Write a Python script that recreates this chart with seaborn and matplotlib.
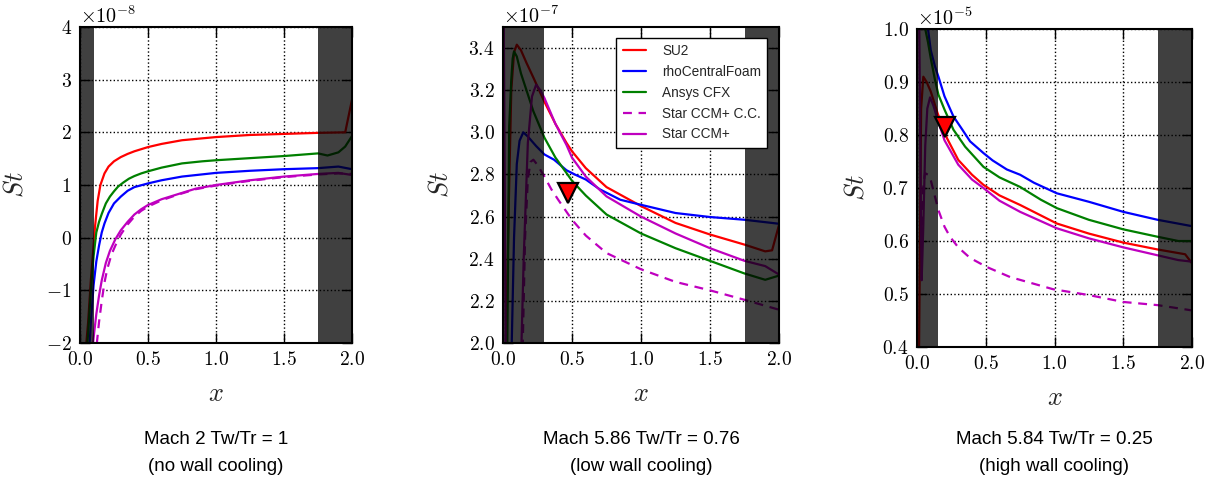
import numpy as np
import matplotlib
matplotlib.use("Agg")
import matplotlib.pyplot as plt
import seaborn as sns
from matplotlib.ticker import MultipleLocator

# ---------------- data (St values in units of the panel's scale) ----------------
solvers = ["SU2", "rhoCentralFoam", "Ansys CFX", "Star CCM+ C.C.", "Star CCM+"]
titles = [("Mach 2 Tw/Tr = 1", "(no wall cooling)"),
          ("Mach 5.86 Tw/Tr = 0.76", "(low wall cooling)"),
          ("Mach 5.84 Tw/Tr = 0.25", "(high wall cooling)")]
scales = [1e-8, 1e-7, 1e-5]
exponents = [-8, -7, -5]

# Panel 1 : Mach 2
p1_su2_x = [0.03, 0.06, 0.08, 0.10, 0.11, 0.13, 0.15, 0.18, 0.21, 0.25, 0.3, 0.35, 0.4, 0.45, 0.5, 0.6, 0.75, 1.0, 1.25, 1.5, 1.75, 1.95, 2.0]
p1_su2_y = [-2.5, -1.6, -0.8, -0.15, 0.2, 0.7, 1.0, 1.22, 1.35, 1.45, 1.53, 1.59, 1.64, 1.68, 1.72, 1.78, 1.85, 1.91, 1.95, 1.97, 1.99, 2.0, 2.62]
p1_rho_x = [0.06, 0.08, 0.1, 0.12, 0.14, 0.16, 0.18, 0.21, 0.25, 0.3, 0.35, 0.4, 0.5, 0.6, 0.75, 1.0, 1.25, 1.5, 1.75, 1.9, 2.0]
p1_rho_y = [-2.5, -1.6, -0.9, -0.45, -0.15, 0.1, 0.27, 0.47, 0.65, 0.78, 0.89, 0.96, 1.03, 1.09, 1.16, 1.23, 1.27, 1.3, 1.32, 1.35, 1.3]
p1_cfx_x = [0.04, 0.06, 0.08, 0.1, 0.12, 0.14, 0.16, 0.19, 0.22, 0.25, 0.28, 0.32, 0.36, 0.4, 0.45, 0.5, 0.6, 0.75, 0.9, 1.0, 1.25, 1.5, 1.75, 1.82, 1.9, 1.95, 2.0]
p1_cfx_y = [-2.5, -1.8, -1.0, -0.35, 0.1, 0.3, 0.45, 0.65, 0.78, 0.88, 0.97, 1.05, 1.12, 1.17, 1.22, 1.26, 1.33, 1.41, 1.45, 1.47, 1.51, 1.55, 1.6, 1.56, 1.62, 1.73, 1.93]
p1_cc_x = [0.1, 0.12, 0.14, 0.16, 0.18, 0.2, 0.23, 0.26, 0.3, 0.35, 0.4, 0.45, 0.5, 0.6, 0.7, 0.85, 1.0, 1.25, 1.5, 1.75, 1.9, 2.0]
p1_cc_y = [-2.6, -2.1, -1.6, -1.2, -0.85, -0.6, -0.33, -0.15, 0.06, 0.25, 0.4, 0.51, 0.59, 0.71, 0.8, 0.92, 0.99, 1.08, 1.15, 1.2, 1.22, 1.21]
p1_star_x = [0.08, 0.1, 0.12, 0.14, 0.16, 0.19, 0.22, 0.26, 0.3, 0.35, 0.4, 0.45, 0.5, 0.6, 0.7, 0.85, 1.0, 1.25, 1.5, 1.75, 1.9, 2.0]
p1_star_y = [-2.5, -1.9, -1.45, -1.1, -0.81, -0.48, -0.25, -0.03, 0.14, 0.3, 0.44, 0.54, 0.62, 0.73, 0.81, 0.93, 1.0, 1.09, 1.16, 1.21, 1.23, 1.19]

# Panel 2 : Mach 5.86, Tw/Tr = 0.76
p2_su2_x = [0.02, 0.04, 0.06, 0.08, 0.1, 0.13, 0.17, 0.22, 0.3, 0.38, 0.46, 0.5, 0.6, 0.75, 1.0, 1.25, 1.5, 1.75, 1.9, 1.95, 2.0]
p2_su2_y = [1.9, 2.6, 3.2, 3.38, 3.416, 3.39, 3.33, 3.26, 3.145, 3.04, 2.95, 2.91, 2.83, 2.74, 2.65, 2.57, 2.515, 2.467, 2.435, 2.44, 2.56]
p2_rho_x = [0.06, 0.08, 0.1, 0.12, 0.147, 0.18, 0.24, 0.3, 0.37, 0.46, 0.52, 0.6, 0.7, 0.85, 1.0, 1.25, 1.5, 1.75, 2.0]
p2_rho_y = [1.9, 2.5, 2.85, 2.96, 3.0, 2.98, 2.935, 2.895, 2.87, 2.82, 2.80, 2.776, 2.73, 2.68, 2.656, 2.617, 2.598, 2.585, 2.566]
p2_cfx_x = [0.03, 0.045, 0.06, 0.07, 0.08, 0.1, 0.13, 0.17, 0.22, 0.3, 0.38, 0.46, 0.5, 0.6, 0.75, 1.0, 1.25, 1.5, 1.75, 1.9, 2.0]
p2_cfx_y = [1.9, 3.03, 3.25, 3.35, 3.384, 3.36, 3.28, 3.2, 3.1, 2.975, 2.88, 2.807, 2.77, 2.70, 2.61, 2.52, 2.45, 2.39, 2.33, 2.30, 2.32]
p2_cc_x = [0.14, 0.16, 0.18, 0.2, 0.22, 0.25, 0.3, 0.35, 0.4, 0.5, 0.6, 0.75, 1.0, 1.25, 1.5, 1.75, 2.0]
p2_cc_y = [1.9, 2.5, 2.78, 2.86, 2.87, 2.845, 2.79, 2.73, 2.68, 2.585, 2.51, 2.427, 2.35, 2.29, 2.25, 2.205, 2.158]
p2_star_x = [0.005, 0.02, 0.13, 0.15, 0.18, 0.21, 0.24, 0.27, 0.3, 0.38, 0.46, 0.5, 0.6, 0.75, 1.0, 1.25, 1.5, 1.75, 1.9, 2.0]
p2_star_y = [3.6, 1.9, 1.9, 2.4, 2.95, 3.17, 3.226, 3.2, 3.163, 3.04, 2.94, 2.88, 2.79, 2.696, 2.6, 2.52, 2.45, 2.39, 2.365, 2.325]

# Panel 3 : Mach 5.84, Tw/Tr = 0.25
p3_su2_x = [0.015, 0.03, 0.046, 0.07, 0.1, 0.15, 0.218, 0.3, 0.4, 0.483, 0.6, 0.75, 1.017, 1.25, 1.5, 1.75, 1.95, 2.0]
p3_su2_y = [0.4, 0.85, 0.91, 0.9, 0.882, 0.841, 0.794, 0.753, 0.725, 0.706, 0.686, 0.668, 0.633, 0.614, 0.597, 0.584, 0.575, 0.558]
p3_rho_x = [0.05, 0.08, 0.1, 0.13, 0.156, 0.2, 0.265, 0.33, 0.386, 0.43, 0.483, 0.55, 0.653, 0.75, 0.85, 1.017, 1.25, 1.5, 1.75, 2.0]
p3_rho_y = [1.05, 1.0, 0.96, 0.93, 0.91, 0.873, 0.835, 0.81, 0.788, 0.778, 0.766, 0.752, 0.735, 0.725, 0.71, 0.69, 0.674, 0.655, 0.64, 0.628]
p3_cfx_x = [0.04, 0.06, 0.08, 0.1, 0.13, 0.156, 0.2, 0.265, 0.35, 0.483, 0.6, 0.75, 0.9, 1.017, 1.25, 1.5, 1.75, 1.9, 2.0]
p3_cfx_y = [1.05, 1.0, 0.975, 0.945, 0.905, 0.876, 0.848, 0.81, 0.778, 0.74, 0.72, 0.702, 0.678, 0.662, 0.64, 0.622, 0.608, 0.60, 0.60]
p3_cc_x = [0.03, 0.045, 0.058, 0.08, 0.1, 0.156, 0.2, 0.24, 0.3, 0.386, 0.507, 0.677, 0.99, 1.25, 1.5, 1.75, 2.0]
p3_cc_y = [0.6, 0.7, 0.728, 0.725, 0.715, 0.658, 0.627, 0.608, 0.588, 0.568, 0.551, 0.532, 0.509, 0.498, 0.485, 0.479, 0.469]
p3_star_x = [0.015, 0.03, 0.034, 0.045, 0.06, 0.075, 0.095, 0.12, 0.15, 0.2, 0.3, 0.4, 0.483, 0.6, 0.75, 1.017, 1.25, 1.5, 1.75, 1.9, 2.0]
p3_star_y = [1.05, 0.6, 0.526, 0.62, 0.78, 0.85, 0.871, 0.855, 0.829, 0.79, 0.744, 0.716, 0.7, 0.676, 0.655, 0.624, 0.605, 0.588, 0.573, 0.564, 0.561]

# triangle markers (x, St) for panels 2 and 3
p2_marker_x, p2_marker_y = [0.47], [2.71]
p3_marker_x, p3_marker_y = [0.204], [0.816]

# shaded (excluded) regions in x
p1_shade = [(0.0, 0.1), (1.75, 2.0)]
p2_shade = [(0.0, 0.3), (1.75, 2.0)]
p3_shade = [(0.0, 0.15), (1.75, 2.0)]

ylims = [(-2, 4), (2.0, 3.5), (0.4, 1.0)]
ysteps = [1.0, 0.2, 0.1]

# ---------------- styling ----------------
sns.set_theme(style="white")
plt.rcParams.update({
    "font.family": ["cmr10"],
    "mathtext.fontset": "cm",
    "axes.formatter.use_mathtext": True,
    "axes.unicode_minus": True,
})
colors = ["#ff0000", "#0000ff", "#008000", "#bf00bf", "#bf00bf"]
styles = ["-", "-", "-", (0, (4, 3)), "-"]
SANS = ["Liberation Sans", "DejaVu Sans"]

W, H = 1215, 482
fig = plt.figure(figsize=(W / 100, H / 100), dpi=100)
boxes = [(80, 27, 352, 343), (503, 27, 779, 343), (917, 29, 1192, 347)]
label_x = [28, 453, 868]
centers = [216, 641, 1054]

panels = [
    [(p1_su2_x, p1_su2_y), (p1_rho_x, p1_rho_y), (p1_cfx_x, p1_cfx_y), (p1_cc_x, p1_cc_y), (p1_star_x, p1_star_y)],
    [(p2_su2_x, p2_su2_y), (p2_rho_x, p2_rho_y), (p2_cfx_x, p2_cfx_y), (p2_cc_x, p2_cc_y), (p2_star_x, p2_star_y)],
    [(p3_su2_x, p3_su2_y), (p3_rho_x, p3_rho_y), (p3_cfx_x, p3_cfx_y), (p3_cc_x, p3_cc_y), (p3_star_x, p3_star_y)],
]
shades = [p1_shade, p2_shade, p3_shade]
markers = [None, (p2_marker_x, p2_marker_y), (p3_marker_x, p3_marker_y)]

for i in range(3):
    l, t, r, b = boxes[i]
    ax = fig.add_axes([l / W, 1 - b / H, (r - l) / W, (b - t) / H])
    sc = scales[i]
    for j, (xs, ys) in enumerate(panels[i]):
        sns.lineplot(x=xs, y=np.array(ys) * sc, ax=ax, color=colors[j],
                     linestyle=styles[j], linewidth=1.6, sort=False, estimator=None,
                     label=solvers[j], zorder=2)
    for a, bb in shades[i]:
        ax.axvspan(a, bb, color="black", alpha=0.75, lw=0, zorder=3)
    if markers[i] is not None:
        mx, my = markers[i]
        ax.plot(mx, np.array(my) * sc, marker="v", ms=15, mfc="#ff0000", mec="black",
                mew=1.6, ls="none", zorder=4)
    ax.set_xlim(0, 2)
    ax.set_ylim(ylims[i][0] * sc, ylims[i][1] * sc)
    ax.xaxis.set_major_locator(MultipleLocator(0.5))
    ax.yaxis.set_major_locator(MultipleLocator(ysteps[i] * sc))
    ax.ticklabel_format(axis="y", style="sci", scilimits=(exponents[i], exponents[i]), useMathText=True)
    ax.yaxis.get_offset_text().set_fontsize(14.5)
    ax.grid(True, color="black", linestyle=":", linewidth=1.0)
    ax.tick_params(direction="in", length=7, width=1, top=True, right=True,
                   bottom=True, left=True, labelsize=14, pad=6, colors="black")
    for s in ax.spines.values():
        s.set_color("black")
        s.set_linewidth(1.5)
        s.set_zorder(5)
    ax.set_xlabel("$x$", fontsize=19, labelpad=9)
    ax.set_ylabel("$St$", fontsize=19)
    ax.yaxis.set_label_coords((label_x[i] - l) / (r - l), 0.5)
    leg = ax.get_legend()
    if leg is not None:
        leg.remove()
    if i == 1:
        lg = ax.legend(loc="upper right", bbox_to_anchor=(0.957, 0.965), borderaxespad=0,
                       prop={"family": SANS, "size": 9.8}, frameon=True, fancybox=False,
                       framealpha=1, edgecolor="black", handlelength=1.7,
                       handletextpad=1.2, labelspacing=0.5, borderpad=0.45)
        lg.get_frame().set_linewidth(1.0)
        lg.set_zorder(6)
    fig.text(centers[i] / W, 1 - 444 / H, titles[i][0], ha="center", va="baseline",
             family=SANS, fontsize=13.5, color="black")
    fig.text(centers[i] / W, 1 - 471 / H, titles[i][1], ha="center", va="baseline",
             family=SANS, fontsize=13.5, color="black")

fig.savefig("out.png", dpi=100, facecolor="white")
